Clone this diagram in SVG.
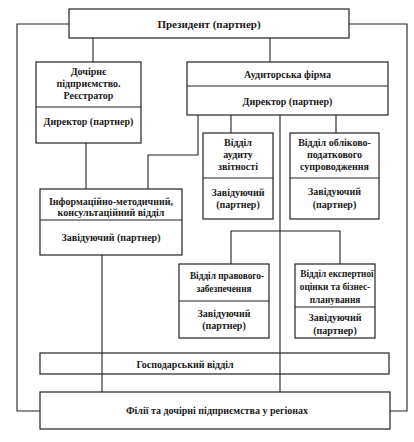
<svg xmlns="http://www.w3.org/2000/svg" width="414" height="442" viewBox="0 0 414 442">
<style>
.b{fill:#fff;stroke:#222;stroke-width:1.2}
.d{stroke:#222;stroke-width:1.1;fill:none}
.c{stroke:#222;stroke-width:1.1;fill:none}
text{font-family:"Liberation Serif","Times New Roman","DejaVu Serif",serif;font-size:10px;font-weight:bold;fill:#1a1a1a;text-anchor:middle}
.t{font-size:11px}
.s{font-size:9.3px}
</style>
<rect width="414" height="442" fill="#fff"/>
<g id="president">
<rect class="b" x="69" y="9" width="280" height="29"/>
<text class="t" x="209" y="28">Президент (партнер)</text>
</g>
<g id="dochirne">
<rect class="b" x="36" y="62" width="105" height="81"/>
<line class="d" x1="36" y1="107" x2="141" y2="107"/>
<text x="88.5" y="75">Дочірнє</text>
<text x="88.5" y="87">підприємство.</text>
<text x="88.5" y="99">Реєстратор</text>
<text x="88.5" y="125">Директор (партнер)</text>
</g>
<g id="audytorska">
<rect class="b" x="187" y="62" width="201" height="53"/>
<line class="d" x1="187" y1="86" x2="388" y2="86"/>
<text x="287.5" y="78">Аудиторська фірма</text>
<text x="287.5" y="105">Директор (партнер)</text>
</g>
<g id="audyt">
<rect class="b" x="203" y="133" width="70" height="86"/>
<line class="d" x1="203" y1="178" x2="273" y2="178"/>
<text x="238" y="146">Відділ</text>
<text x="238" y="158">аудиту</text>
<text x="238" y="170">звітності</text>
<text x="238" y="196">Завідуючий</text>
<text x="238" y="208">(партнер)</text>
</g>
<g id="oblik">
<rect class="b" x="290" y="133" width="89" height="86"/>
<line class="d" x1="290" y1="178" x2="379" y2="178"/>
<text x="334.5" y="146">Відділ обліково-</text>
<text x="334.5" y="158">податкового</text>
<text x="334.5" y="170">супроводження</text>
<text x="334.5" y="195">Завідуючий</text>
<text x="334.5" y="208">(партнер)</text>
</g>
<g id="info">
<rect class="b" x="40" y="189" width="142" height="66"/>
<line class="d" x1="40" y1="220" x2="182" y2="220"/>
<text x="111" y="205">Інформаційно-методичний,</text>
<text x="111" y="216">консультаційний відділ</text>
<text x="111" y="241">Завідуючий (партнер)</text>
</g>
<g id="pravo">
<rect class="b" x="179" y="264" width="90" height="74"/>
<line class="d" x1="179" y1="301" x2="269" y2="301"/>
<text class="s" x="227" y="279">Відділ правового-</text>
<text class="s" x="224" y="292">забезпечення</text>
<text x="224" y="317">Завідуючий</text>
<text x="224" y="329">(партнер)</text>
</g>
<g id="ekspert">
<rect class="b" x="295" y="264" width="80" height="74"/>
<line class="d" x1="295" y1="307" x2="375" y2="307"/>
<text class="s" x="337" y="277">Відділ експертної</text>
<text class="s" x="335" y="290">оцінки та бізнес-</text>
<text class="s" x="335" y="303">планування</text>
<text x="335" y="321">Завідуючий</text>
<text x="335" y="334">(партнер)</text>
</g>
<g id="hospodarsky">
<rect class="b" x="40" y="353" width="349" height="21"/>
<text x="185" y="368">Господарський відділ</text>
</g>
<g id="filii">
<rect class="b" x="40" y="392" width="350" height="37"/>
<text x="217" y="414">Філії та дочірні підприємства у регіонах</text>
</g>
<g id="connectors">
<polyline class="c" points="69,24 17,24 17,411 40,411"/>
<polyline class="c" points="349,24 407,24 407,411 390,411"/>
<line class="c" x1="93" y1="38" x2="93" y2="62"/>
<line class="c" x1="270" y1="38" x2="270" y2="62"/>
<line class="c" x1="86" y1="143" x2="86" y2="189"/>
<polyline class="c" points="198,115 198,155 148,155 148,189"/>
<line class="c" x1="231" y1="115" x2="231" y2="133"/>
<line class="c" x1="336" y1="115" x2="336" y2="133"/>
<line class="c" x1="280" y1="115" x2="280" y2="392"/>
<polyline class="c" points="231,264 231,231 340,231 340,264"/>
<line class="c" x1="102" y1="255" x2="102" y2="392"/>
</g>
</svg>
